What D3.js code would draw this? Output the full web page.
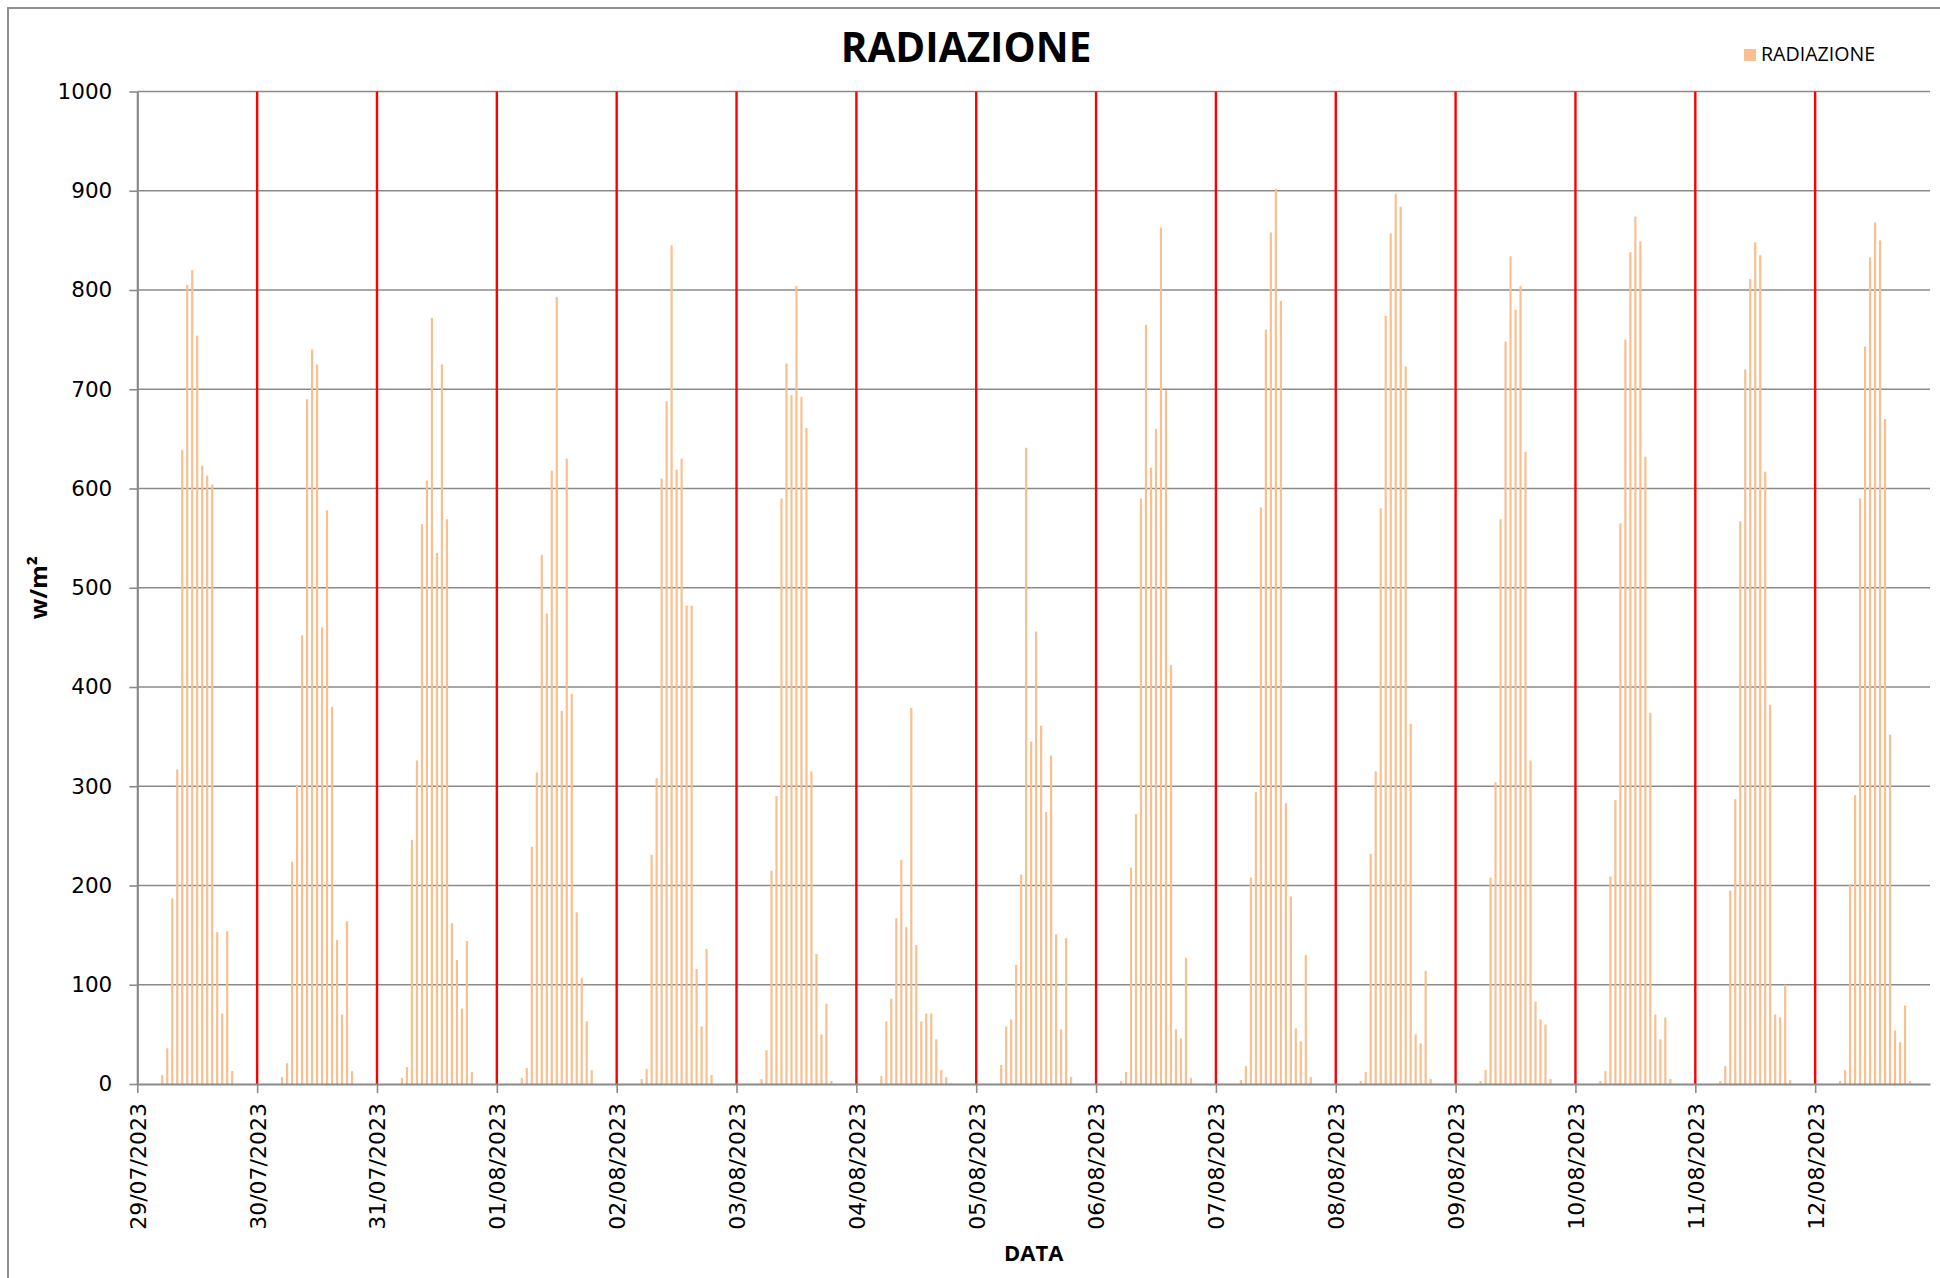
<!DOCTYPE html>
<html>
<head>
<meta charset="utf-8">
<script src="https://cdn.jsdelivr.net/npm/d3@7"></script>
<style>
  body { margin: 0; background: #fff; }
  svg { display: block; }
</style>
</head>
<body>
<svg id="chart" width="1940" height="1278"></svg>
<script>
// Day labels on the date axis
const giorni = ["29/07/2023", "30/07/2023", "31/07/2023", "01/08/2023", "02/08/2023",
                "03/08/2023", "04/08/2023", "05/08/2023", "06/08/2023", "07/08/2023",
                "08/08/2023", "09/08/2023", "10/08/2023", "11/08/2023", "12/08/2023"];

// Hours of the day with non-zero radiation
const ore = [5, 6, 7, 8, 9, 10, 11, 12, 13, 14, 15, 16, 17, 18, 19];

// Hourly solar radiation (W/m²), one row per day, one value per hour in `ore`
const rad_2907 = [9, 36, 187, 317, 639, 805, 820, 754, 623, 613, 604, 153, 71, 154, 13];
const rad_3007 = [7, 21, 224, 301, 452, 690, 740, 725, 460, 578, 380, 145, 70, 164, 13];
const rad_3107 = [6, 17, 246, 326, 564, 608, 772, 535, 725, 569, 162, 125, 76, 144, 12];
const rad_0108 = [6, 16, 239, 314, 533, 474, 618, 793, 376, 630, 393, 173, 107, 63, 14];
const rad_0208 = [5, 15, 231, 308, 610, 688, 845, 619, 630, 482, 482, 116, 58, 136, 9];
const rad_0308 = [5, 34, 215, 290, 590, 726, 694, 804, 692, 661, 315, 131, 50, 81, 3];
const rad_0408 = [8, 63, 86, 167, 226, 158, 379, 140, 63, 71, 71, 45, 14, 7, 1];
const rad_0508 = [19, 58, 65, 120, 211, 641, 345, 456, 361, 274, 331, 151, 55, 147, 7];
const rad_0608 = [3, 12, 218, 272, 590, 765, 621, 660, 863, 699, 422, 55, 46, 127, 6];
const rad_0708 = [4, 18, 208, 294, 581, 760, 858, 902, 789, 283, 189, 56, 43, 130, 7];
const rad_0808 = [3, 12, 232, 315, 580, 774, 857, 897, 884, 723, 363, 50, 41, 114, 5];
const rad_0908 = [3, 14, 208, 304, 569, 748, 834, 780, 804, 637, 326, 83, 65, 60, 5];
const rad_1008 = [3, 13, 209, 286, 565, 750, 838, 874, 849, 632, 374, 70, 45, 67, 5];
const rad_1108 = [3, 18, 195, 287, 567, 720, 811, 848, 835, 617, 382, 70, 67, 100, 4];
const rad_1208 = [3, 14, 201, 291, 590, 743, 833, 868, 850, 670, 352, 54, 42, 79, 3];

const radiazione = [rad_2907, rad_3007, rad_3107, rad_0108, rad_0208, rad_0308, rad_0408,
                    rad_0508, rad_0608, rad_0708, rad_0808, rad_0908, rad_1008, rad_1108, rad_1208];

// Value axis ticks
const yTicks = [0, 100, 200, 300, 400, 500, 600, 700, 800, 900, 1000];

const serieNome = "RADIAZIONE";
const colBar = "#F9BF8F";
const colGrid = "#8A8A8A";

// ---- geometry ----
const W = 1940, H = 1278;
const plot = { left: 137.3, right: 1930, top: 91.5, bottom: 1084 };

const parseDay = s => { const [d, m, y] = s.split("/").map(Number); return new Date(y, m - 1, d); };
const dayDates = giorni.map(parseDay);
const lastHour = new Date(dayDates[dayDates.length - 1].getTime());
lastHour.setHours(23);

// flatten to hourly records
const records = [];
radiazione.forEach((row, i) => {
  row.forEach((v, j) => {
    const t = new Date(dayDates[i].getTime());
    t.setHours(ore[j]);
    records.push({ t, v });
  });
});

const x = d3.scaleTime().domain([dayDates[0], lastHour]).range([plot.left, plot.right]);
const y = d3.scaleLinear().domain([0, 1000]).range([plot.bottom, plot.top]);

const svg = d3.select("#chart");
svg.append("rect").attr("width", W).attr("height", H).attr("fill", "#fff");

// outer chart border
svg.append("rect")
  .attr("x", 8).attr("y", 8).attr("width", W).attr("height", H)
  .attr("fill", "none").attr("stroke", "#8E8E8E").attr("stroke-width", 2);

// horizontal gridlines
svg.append("g").selectAll("line").data(yTicks.slice(1)).join("line")
  .attr("x1", plot.left).attr("x2", plot.right)
  .attr("y1", d => y(d)).attr("y2", d => y(d))
  .attr("stroke", colGrid).attr("stroke-width", 1.6);

// day separators
svg.append("g").selectAll("line").data(dayDates.slice(1)).join("line")
  .attr("x1", d => x(d)).attr("x2", d => x(d))
  .attr("y1", plot.top).attr("y2", plot.bottom)
  .attr("stroke", "#FF0000").attr("stroke-width", 2.4);

// bars
const bw = 2.2;
svg.append("g").selectAll("rect").data(records).join("rect")
  .attr("x", d => x(d.t) - bw / 2)
  .attr("y", d => y(d.v))
  .attr("width", bw)
  .attr("height", d => y(0) - y(d.v))
  .attr("fill", colBar);

// y axis
const yAxis = svg.append("g")
  .attr("transform", `translate(${plot.left},0)`)
  .call(d3.axisLeft(y).tickValues(yTicks).tickFormat(d3.format("d"))
        .tickSize(8).tickSizeOuter(0).tickPadding(17));
yAxis.select(".domain").attr("stroke", colGrid).attr("stroke-width", 2.2);
yAxis.selectAll(".tick line").attr("stroke", colGrid).attr("stroke-width", 1.6);
yAxis.selectAll(".tick text")
  .attr("font-family", "'DejaVu Sans', Verdana, sans-serif")
  .attr("font-size", 21.5).attr("fill", "#000");

// x axis
const xAxis = svg.append("g")
  .attr("transform", `translate(0,${plot.bottom})`)
  .call(d3.axisBottom(x).tickValues(dayDates).tickFormat((d, i) => giorni[i])
        .tickSize(9).tickSizeOuter(0));
xAxis.select(".domain").attr("stroke", colGrid).attr("stroke-width", 2.2);
xAxis.selectAll(".tick line").attr("stroke", colGrid).attr("stroke-width", 1.6);
xAxis.selectAll(".tick text")
  .attr("font-family", "'DejaVu Sans', Verdana, sans-serif")
  .attr("font-size", 22).attr("fill", "#000")
  .attr("transform", "rotate(-90)")
  .attr("x", -19).attr("y", 0).attr("dy", "0.36em")
  .style("text-anchor", "end");

// title
svg.append("text")
  .attr("x", 966).attr("y", 62)
  .attr("text-anchor", "middle")
  .attr("font-family", "'Open Sans', sans-serif").attr("font-weight", 700)
  .attr("font-size", 40.5).text(serieNome);

// legend
svg.append("rect").attr("x", 1744).attr("y", 49).attr("width", 12).attr("height", 12).attr("fill", colBar);
svg.append("text")
  .attr("x", 1761).attr("y", 61)
  .attr("font-family", "'Open Sans', sans-serif").attr("font-size", 19.6)
  .text(serieNome);

// axis titles
svg.append("text")
  .attr("transform", `translate(47,${(plot.top + plot.bottom) / 2}) rotate(-90)`)
  .attr("text-anchor", "middle")
  .attr("font-family", "'Open Sans', sans-serif").attr("font-weight", 700)
  .attr("font-size", 24)
  .text("w/m²");

svg.append("text")
  .attr("x", (plot.left + plot.right) / 2).attr("y", 1261)
  .attr("text-anchor", "middle")
  .attr("font-family", "'Open Sans', sans-serif").attr("font-weight", 700)
  .attr("font-size", 22)
  .text("DATA");
</script>
</body>
</html>
